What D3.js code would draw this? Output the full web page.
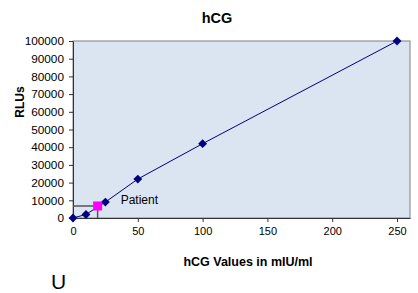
<!DOCTYPE html>
<html>
<head>
<meta charset="utf-8">
<script src="https://cdn.jsdelivr.net/npm/d3@7"></script>
<style>
	body { margin: 0; background: #fff; }
	svg { font-family: "Liberation Sans", Arial, sans-serif; }
</style>
</head>
<body>
<script>
// standard curve data
const hcgValues = [0, 10, 25, 50, 100, 250],
	rluValues = [0, 2000, 9000, 22000, 42000, 100000],
	patientHcg = 19,
	patientRlu = 6800,
	xTicks = [0, 50, 100, 150, 200, 250],
	yTicks = [0, 10000, 20000, 30000, 40000, 50000, 60000, 70000, 80000, 90000, 100000];

const w = 418, h = 293,
	plotLeft = 73, plotRight = 410, plotTop = 41, plotBottom = 218;

const svg = d3.select("body")
	.append("svg")
	.attr("width", w)
	.attr("height", h);

const xScale = d3.scaleLinear()
	.domain([0, 260])
	.range([plotLeft, plotRight]);

const yScale = d3.scaleLinear()
	.domain([0, 100000])
	.range([plotBottom, plotTop]);

// plot area
svg.append("rect")
	.attr("x", plotLeft)
	.attr("y", plotTop)
	.attr("width", plotRight - plotLeft)
	.attr("height", plotBottom - plotTop)
	.attr("fill", "#dbe5f1")
	.attr("stroke", "#808080")
	.attr("stroke-width", 1);

// axes
const xAxis = d3.axisBottom(xScale)
	.tickValues(xTicks)
	.tickFormat(d3.format("d"))
	.tickSize(4)
	.tickPadding(5)
	.tickSizeOuter(0);

const yAxis = d3.axisLeft(yScale)
	.tickValues(yTicks)
	.tickFormat(d3.format("d"))
	.tickSize(4)
	.tickPadding(5)
	.tickSizeOuter(0);

const gx = svg.append("g")
	.attr("transform", "translate(0, " + plotBottom + ")")
	.call(xAxis);

const gy = svg.append("g")
	.attr("transform", "translate(" + plotLeft + ", 0)")
	.call(yAxis);

gx.selectAll("text").style("font-size", "11px");
gy.selectAll("text").style("font-size", "11.8px");
[gx, gy].forEach(g => {
	g.selectAll("path, line").attr("stroke", "#333");
	g.selectAll("text")
		.attr("fill", "#000")
		.style("font-family", "Liberation Sans, Arial, sans-serif");
});

// patient drop lines
svg.append("path")
	.attr("d", "M" + xScale(0) + "," + yScale(patientRlu) +
		"H" + xScale(patientHcg) + "V" + yScale(0))
	.attr("fill", "none")
	.attr("stroke", "#555")
	.attr("stroke-width", 1.5);

// curve
const line = d3.line()
	.x(i => xScale(hcgValues[i]))
	.y(i => yScale(rluValues[i]));

svg.append("path")
	.datum(d3.range(hcgValues.length))
	.attr("d", line)
	.attr("fill", "none")
	.attr("stroke", "#000080")
	.attr("stroke-width", 1);

svg.selectAll("path.marker")
	.data(d3.range(hcgValues.length))
	.enter()
	.append("path")
	.attr("class", "marker")
	.attr("d", d3.symbol(d3.symbolDiamond2, 50))
	.attr("transform", i => "translate(" + xScale(hcgValues[i]) + "," + yScale(rluValues[i]) + ")")
	.attr("fill", "#000080");

// patient point
svg.append("rect")
	.attr("x", xScale(patientHcg) - 4.5)
	.attr("y", yScale(patientRlu) - 4.5)
	.attr("width", 9)
	.attr("height", 9)
	.attr("fill", "#ff00ff");

svg.append("text")
	.text("Patient")
	.attr("x", xScale(patientHcg) + 23)
	.attr("y", yScale(patientRlu) - 2)
	.style("font-size", "12px");

// titles
svg.append("text")
	.text("hCG")
	.attr("x", 217)
	.attr("y", 23)
	.attr("text-anchor", "middle")
	.style("font-size", "14.5px")
	.style("font-weight", "bold");

svg.append("text")
	.text("hCG Values in mIU/ml")
	.attr("x", 248)
	.attr("y", 266)
	.attr("text-anchor", "middle")
	.style("font-size", "12.5px")
	.style("font-weight", "bold");

svg.append("text")
	.text("RLUs")
	.attr("transform", "translate(24, 102) rotate(-90)")
	.attr("text-anchor", "middle")
	.style("font-size", "12px")
	.style("font-weight", "bold");

svg.append("text")
	.text("U")
	.attr("x", 51)
	.attr("y", 289)
	.style("font-size", "21px");
</script>
</body>
</html>
